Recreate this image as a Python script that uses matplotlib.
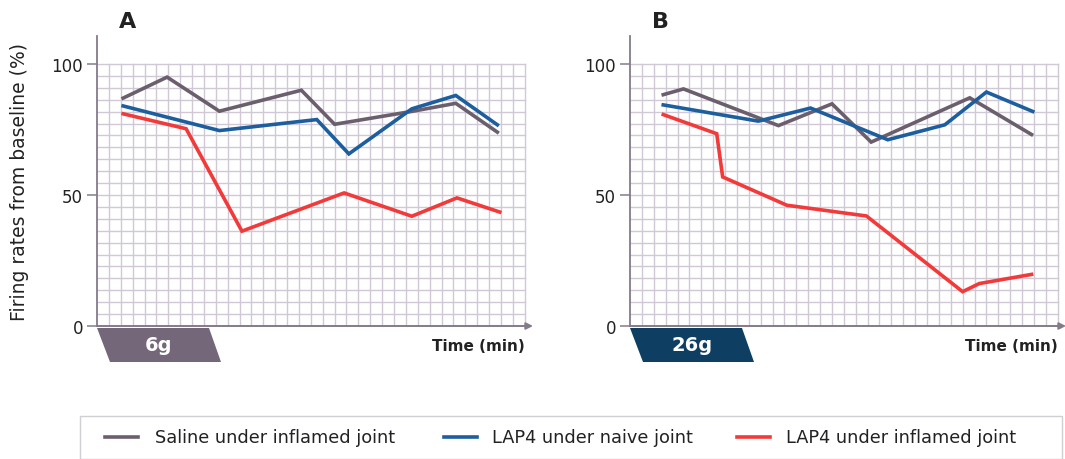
import matplotlib
matplotlib.use('Agg')
import matplotlib.pyplot as plt
from matplotlib.patches import Polygon, Rectangle
from matplotlib.lines import Line2D

# panel A (6g)
a_saline_x = [2.2, 5.9, 10.3, 17.2, 20.0, 26.6, 30.2, 33.7]
a_saline_y = [87, 95, 82, 90, 77, 82, 85, 74]
a_naive_x = [2.2, 10.3, 18.5, 21.2, 26.5, 30.2, 33.7]
a_naive_y = [84, 74.6, 78.8, 65.7, 82.9, 88, 76.8]
a_infl_x = [2.2, 7.5, 12.2, 20.8, 26.5, 30.3, 33.9]
a_infl_y = [81, 75.3, 36.2, 50.8, 41.9, 48.9, 43.5]

# panel B (26g)
b_saline_x = [2.8, 4.5, 12.5, 17.0, 20.3, 28.6, 33.8]
b_saline_y = [88.3, 90.5, 76.5, 84.8, 70.2, 87.1, 73.1]
b_naive_x = [2.8, 10.8, 15.2, 21.7, 26.5, 30.0, 33.9]
b_naive_y = [84.4, 78.2, 83.2, 71.1, 76.8, 89.3, 81.9]
b_infl_x = [2.8, 7.3, 7.8, 13.2, 19.9, 28.0, 29.4, 33.8]
b_infl_y = [80.7, 73.4, 56.9, 46.1, 42.0, 13.1, 16.2, 19.7]

yticks = [0, 50, 100]
labels = ['Saline under inflamed joint', 'LAP4 under naive joint', 'LAP4 under inflamed joint']

c_saline = '#6b5f6e'
c_naive = '#1d5e9f'
c_infl = '#f23a3a'
c_grid = '#d0c8d4'
c_axis = '#857a8a'

W, H = 1065, 460
fig = plt.figure(figsize=(W/100, H/100), dpi=100)

def px(x, y):
    return (x/W, 1 - y/H)

def panel(left, title, tag, tagcol, series):
    ax = fig.add_axes([left/W, 133/H, 436/W, 290/H])
    ax.set_xlim(0, 36.7)
    ax.set_ylim(0, 110.7)
    for k in range(1, 23):
        ax.plot([0, 36], [k*100/22]*2, color=c_grid, lw=1.0, zorder=1)
    for k in range(1, 37):
        ax.plot([k, k], [0, 100], color=c_grid, lw=1.0, zorder=1)
    for xs, ys, c in series:
        ax.plot(xs, ys, color=c, lw=2.6, zorder=3, solid_joinstyle='miter')
    for s in ['top', 'right', 'bottom']:
        ax.spines[s].set_visible(False)
    ax.spines['left'].set_color(c_axis)
    ax.spines['left'].set_linewidth(1.3)
    ax.annotate('', xy=(36.7, 0), xytext=(0, 0),
                arrowprops=dict(arrowstyle='-|>', color=c_axis, lw=1.4,
                                mutation_scale=10, shrinkA=0, shrinkB=0),
                annotation_clip=False, zorder=4)
    ax.set_xticks([])
    ax.set_yticks(yticks)
    ax.tick_params(axis='y', length=7, width=1.1, color=c_axis,
                   labelsize=12, labelcolor='#222222', pad=3)
    ax.text(2.6, 116.5, title, fontsize=16, fontweight='bold',
            color='#222222', ha='center', va='center', clip_on=False)
    ax.text(36.0, -7.5, 'Time (min)', fontsize=11, fontweight='bold',
            color='#222222', ha='right', va='center', clip_on=False)
    # stimulus tag
    x0 = left
    pts = [px(x0, 329), px(x0 + 112, 329), px(x0 + 124, 363), px(x0 + 13, 363)]
    fig.add_artist(Polygon(pts, closed=True, transform=fig.transFigure,
                           facecolor=tagcol, edgecolor='none'))
    cx, cy = px(x0 + 62, 346)
    fig.text(cx, cy, tag, color='white', fontsize=14, fontweight='bold',
             ha='center', va='center')
    return ax

axA = panel(97, 'A', '6g', '#746779',
            [(a_saline_x, a_saline_y, c_saline),
             (a_naive_x, a_naive_y, c_naive),
             (a_infl_x, a_infl_y, c_infl)])
axB = panel(630, 'B', '26g', '#0e3f63',
            [(b_saline_x, b_saline_y, c_saline),
             (b_naive_x, b_naive_y, c_naive),
             (b_infl_x, b_infl_y, c_infl)])

lx, ly = px(20, 182)
fig.text(lx, ly, 'Firing rates from baseline (%)', rotation=90, fontsize=13.5,
         color='#222222', ha='center', va='center')

# legend box
bx, by = px(80, 460)
fig.add_artist(Rectangle((bx, by), (1062 - 80)/W, 43/H, transform=fig.transFigure,
                         facecolor='white', edgecolor='#cfcfd4', lw=1))
items = [(105, 155, c_saline, labels[0]),
         (444, 492, c_naive, labels[1]),
         (737, 786, c_infl, labels[2])]
for l0, t0, c, lab in items:
    a, yy = px(l0, 438)
    b, _ = px(l0 + 33, 438)
    fig.add_artist(Line2D([a, b], [yy, yy], color=c, lw=2.6, transform=fig.transFigure))
    tx, _ = px(t0, 438)
    fig.text(tx, yy, lab, fontsize=12.8, color='#222222', ha='left', va='center')

fig.savefig('out.png', dpi=100)
